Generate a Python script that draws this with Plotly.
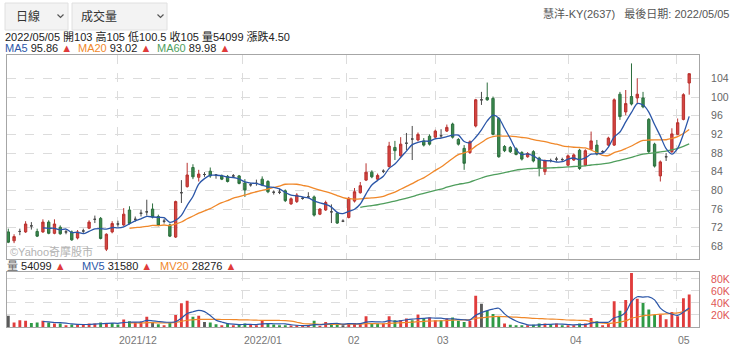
import plotly.graph_objects as go
import pandas as pd
import numpy as np

# ---------------- data ----------------
opens = [71.1,69.2,71.2,71.1,72.4,71.2,71.1,73.2,70.8,72.1,
 71.1,71.1,69.8,71.3,71.9,73.8,74.0,67.4,71.1,72.8,
 72.6,75.8,73.8,75.1,75.4,76.0,74.4,73.4,72.6,70.0,
 79.5,80.8,84.9,82.8,83.4,84.1,83.3,83.1,83.0,83.1,
 83.1,81.6,81.2,81.5,82.4,81.9,79.6,79.6,79.9,77.1,
 77.6,78.3,78.6,78.6,74.9,75.8,75.4,75.1,73.4,74.2,
 77.7,79.5,82.2,83.9,82.4,84.1,85.1,89.2,87.4,90.1,
 91.0,90.8,90.6,91.6,91.4,91.7,92.7,94.2,90.9,89.0,
 88.1,93.8,99.4,99.9,99.7,95.4,89.4,89.2,88.9,88.1,
 87.2,88.3,86.9,84.0,86.4,86.7,86.6,85.4,86.5,88.6,
 85.4,88.8,89.7,88.3,89.7,89.7,100.6,96.8,100.1,99.8,
 99.8,95.2,89.9,83.1,87.2,88.3,92.0,95.2,103.0]
highs = [71.8,70.6,71.8,73.4,73.2,71.8,73.8,73.6,73.8,72.5,
 71.5,71.4,71.5,71.8,73.6,74.6,74.3,70.8,73.4,73.5,
 76.2,76.6,74.4,75.8,78.0,77.2,74.8,73.9,72.9,77.8,
 82.2,85.9,85.6,84.4,83.9,84.9,83.5,83.4,83.3,83.5,
 83.3,82.4,81.6,82.3,83.0,82.2,80.0,80.4,80.2,78.5,
 79.4,78.6,79.6,78.9,76.2,77.8,77.0,75.4,73.8,78.6,
 80.5,81.8,85.8,84.3,83.6,84.5,90.4,90.6,91.4,92.3,
 93.8,92.4,91.2,92.0,93.0,93.1,94.1,94.5,91.2,89.7,
 90.7,99.6,101.1,103.1,100.1,95.7,89.7,89.5,89.2,88.4,
 88.2,88.6,87.2,86.6,86.8,87.2,87.0,87.7,87.9,88.9,
 88.8,92.6,90.8,88.6,91.5,99.7,101.1,101.5,107.2,104.0,
 101.1,95.5,90.2,86.4,88.0,93.3,95.4,100.8,105.0]
lows = [68.7,68.7,70.4,70.9,71.6,70.0,70.9,70.6,70.6,70.5,
 70.6,69.2,69.5,70.9,71.7,73.0,69.5,67.0,70.8,72.2,
 72.4,72.7,73.3,74.4,74.6,74.0,72.3,72.9,70.0,69.8,
 77.3,80.6,82.4,81.9,82.9,82.7,82.5,82.2,81.7,82.7,
 81.3,78.6,80.8,81.0,80.9,79.4,79.1,79.2,77.5,76.9,
 77.3,78.0,78.3,74.4,74.7,75.6,73.0,72.8,73.2,74.0,
 77.4,79.3,82.0,82.6,82.2,83.7,84.9,86.5,87.2,88.6,
 86.5,90.5,89.4,89.6,91.2,91.2,92.5,91.1,89.6,84.4,
 87.8,93.5,98.3,99.2,91.8,87.0,88.2,88.0,87.5,86.4,
 87.0,86.0,83.0,83.3,86.0,86.2,86.2,85.2,86.3,84.4,
 85.2,88.6,87.5,88.0,89.5,89.5,95.1,96.1,98.2,98.6,
 97.6,88.0,84.9,81.9,86.3,88.0,91.8,95.0,100.5]
closes = [68.9,70.1,71.2,72.8,72.4,70.2,73.2,70.8,72.8,70.7,
 71.1,69.4,71.1,71.3,73.2,73.8,69.7,70.6,72.9,72.8,
 74.9,72.9,73.8,75.1,75.4,74.3,72.5,73.4,70.2,77.6,
 79.5,83.3,82.9,83.5,83.4,83.1,83.3,82.4,81.9,83.1,
 81.5,80.1,81.2,81.5,81.2,79.7,79.6,79.6,77.8,78.2,
 79.0,78.3,78.6,74.7,76.0,77.4,75.4,73.0,73.4,78.3,
 79.7,81.0,83.9,82.9,83.2,84.1,89.5,88.5,89.9,90.1,
 91.0,92.0,89.7,89.9,92.7,91.7,93.5,91.4,89.9,85.8,
 90.4,99.4,99.4,99.4,92.0,87.2,88.5,88.3,87.7,86.7,
 87.9,86.3,84.7,86.3,86.4,86.7,86.6,87.4,87.6,84.7,
 88.5,90.6,87.8,88.3,91.2,99.4,95.8,98.6,98.5,100.6,
 97.9,88.3,85.2,86.1,87.2,92.1,94.5,100.5,105.0]
volumes = [18700,7300,11300,10200,6800,7300,10200,7300,5700,5700,
 2800,4000,4000,4500,5700,5700,7300,6800,6800,4000,
 12500,9600,7300,8500,17000,8500,4500,2800,6800,19800,
 39700,43600,17000,18700,8500,7300,4500,2800,5700,2800,
 4500,5700,3400,2800,10200,6800,4000,2800,2800,2300,
 2800,1700,2300,10200,1700,8500,5700,4500,2800,6800,
 6800,6800,18000,5700,5700,5700,18000,11300,11300,14200,
 11300,21000,14200,15900,11300,11300,14200,15900,10200,8500,
 10200,52000,38500,27200,21500,16500,5700,3900,2800,2800,
 2800,3900,5700,5700,3900,5700,2800,2800,2800,5700,
 5700,15000,9500,2800,6800,43000,27000,45000,90000,47000,
 40000,29000,20000,21000,13000,25000,18000,47800,54099]
vol_dir = ("krrrggrgrgrgrrrrgrgg" "rgrrrkgrgrrrgrkggrgr" "ggrrrggggrrrrgrrggkr"
           "rrrggrrgrrgrgrrgrggg" "rrkgggrgggrggrgrgrrg" "rrgrrrgrrrgggrrrrrr")
month_lines = [18.84, 40.55, 58.53, 73.95, 97.0, 115.72]
month_labels = ["2021/12", "2022/01", "02", "03", "04", "05"]
price_ticks = [68, 72, 76, 80, 84, 88, 92, 96, 100, 104]
vol_ticks = [20000, 40000, 60000, 80000]
vol_tick_text = ["20K", "40K", "60K", "80K"]

# ---------------- styling ----------------
FONT = "Liberation Sans, Arial, Noto Sans CJK TC, sans-serif"
RED = "#d64541"; RED_L = "#b8322f"
GREEN = "#3b8b4f"; GREEN_L = "#2c6e3d"
DOJI = "#4a4a4a"
C_MA5 = "#2b56a8"; C_MA20 = "#f0882a"; C_MA60 = "#4f9e5d"
TRI = "#e03a3a"
GRID = "#dcdcdc"; FRAME = "#a6a6a6"

n = len(closes)
idx = np.arange(n)
o = np.array(opens); c = np.array(closes); h = np.array(highs); l = np.array(lows)

fig = go.Figure()

def add_candles(mask, fill, line):
    ii = idx[mask]
    fig.add_trace(go.Candlestick(
        x=ii, open=o[mask], high=h[mask], low=l[mask], close=c[mask],
        increasing=dict(line=dict(color=line, width=1), fillcolor=fill),
        decreasing=dict(line=dict(color=line, width=1), fillcolor=fill),
        whiskerwidth=0, xaxis="x", yaxis="y", hoverinfo="skip", showlegend=False))

add_candles(c > o, RED, RED_L)
add_candles(c < o, GREEN, GREEN_L)
add_candles(c == o, DOJI, DOJI)

cs = pd.Series(closes)
vs = pd.Series(volumes, dtype=float)
def ma(series, win):
    m = series.rolling(win).mean()
    m.iloc[:win + 1] = np.nan
    return m

for win, col in [(60, C_MA60), (20, C_MA20), (5, C_MA5)]:
    fig.add_trace(go.Scatter(x=idx, y=ma(cs, win), mode="lines",
                             line=dict(color=col, width=1.3, shape="spline", smoothing=0.8),
                             xaxis="x", yaxis="y", hoverinfo="skip", showlegend=False))

vcol = {"r": "#e03c3c", "g": "#2f9a45", "k": "#5a5a5a"}
fig.add_trace(go.Bar(x=idx, y=volumes, marker=dict(color=[vcol[d] for d in vol_dir], line=dict(width=0)),
                     width=0.5, xaxis="x2", yaxis="y2", hoverinfo="skip", showlegend=False))
for win, col in [(20, C_MA20), (5, C_MA5)]:
    fig.add_trace(go.Scatter(x=idx, y=ma(vs, win), mode="lines",
                             line=dict(color=col, width=1.2, shape="spline", smoothing=0.8),
                             xaxis="x2", yaxis="y2", hoverinfo="skip", showlegend=False))

W, H = 740, 352
L, R, T, B = 7, 699, 55, 327
def px(xp): return (xp - L) / (R - L)
def py(yp): return (B - yp) / (B - T)

xcommon = dict(range=[-0.225, 119.7], tickvals=month_lines, showticklabels=False, ticks="",
               showgrid=True, gridcolor=GRID, griddash="dash", gridwidth=1, zeroline=False,
               showline=True, mirror=True, linecolor=FRAME, linewidth=1,
               rangeslider=dict(visible=False), fixedrange=True)

fig.update_layout(
    width=W, height=H,
    margin=dict(l=L, r=W - R, t=T, b=H - B),
    paper_bgcolor="white", plot_bgcolor="white",
    showlegend=False, hovermode=False, boxgap=0.42,
    font=dict(family=FONT, size=11, color="#333"),
    xaxis=dict(domain=[0, 1], anchor="y", **xcommon),
    xaxis2=dict(domain=[0, 1], anchor="y2", matches="x", **xcommon),
    yaxis=dict(domain=[py(259), 1], range=[65.3, 109.0], side="right", anchor="x",
               tickvals=price_ticks, ticks="", ticklabelstandoff=9,
               tickfont=dict(size=10.5, color="#666"),
               showgrid=True, gridcolor=GRID, griddash="dash", zeroline=False,
               showline=True, mirror=True, linecolor=FRAME, linewidth=1),
    yaxis2=dict(domain=[0, py(271.7)], range=[0, 92000], side="right", anchor="x2",
                tickvals=vol_ticks, ticktext=vol_tick_text, ticks="", ticklabelstandoff=9,
                tickfont=dict(size=10.5, color="#e05555"),
                showgrid=True, gridcolor=GRID, griddash="dash", zeroline=False,
                showline=True, mirror=True, linecolor=FRAME, linewidth=1),
)

def ann(text, xp, yp, xanchor="left", size=11, color="#222"):
    return dict(text=text, x=px(xp), y=py(yp), xref="paper", yref="paper",
                xanchor=xanchor, yanchor="middle", showarrow=False,
                font=dict(size=size, color=color, family=FONT))

def span(t, col):
    return f"<span style='color:{col}'>{t}</span>"

anns = [
    ann("日線", 14, 16.5, size=12, color="#333"),
    ann("成交量", 79, 16.5, size=12, color="#333"),
    ann("慧洋-KY(2637)&nbsp;&nbsp;&nbsp;最後日期: 2022/05/05", 731, 13.5, xanchor="right", size=11, color="#555"),
    ann("2022/05/05 開103 高105 低100.5 收105 量54099 漲跌4.50", 3, 36, size=11),
    ann(span("MA5", C_MA5) + " 95.86 " + span("▲", TRI), 3, 48.5, size=11),
    ann(span("MA20", C_MA20) + " 93.02 " + span("▲", TRI), 76, 48.5, size=11),
    ann(span("MA60", C_MA60) + " 89.98 " + span("▲", TRI), 155, 48.5, size=11),
    ann("©Yahoo奇摩股市", 8, 251.5, size=11, color="#b3b3b3"),
    ann(span("量", "#666") + " 54099 " + span("▲", TRI), 5, 266, size=11),
    ann(span("MV5", C_MA5) + " 31580 " + span("▲", TRI), 80, 266, size=11),
    ann(span("MV20", C_MA20) + " 28276 " + span("▲", TRI), 158, 266, size=11),
]
for pos, lab in zip(month_lines, month_labels):
    anns.append(dict(text=lab, x=pos, xref="x", y=py(339.5), yref="paper",
                     xanchor="left", yanchor="middle", showarrow=False,
                     font=dict(size=10.5, color="#777", family=FONT)))
fig.update_layout(annotations=anns)

shapes = []
for x0, x1 in [(5, 68), (72, 167)]:
    shapes.append(dict(type="rect", xref="paper", yref="paper",
                       x0=px(x0), x1=px(x1), y0=py(30), y1=py(3),
                       fillcolor="#f3f3f3", line=dict(color="#e0e0e0", width=1), layer="below"))
for cx in [60.5, 160.5]:
    path = f"M {px(cx-3)} {py(14.5)} L {px(cx)} {py(17.5)} L {px(cx+3)} {py(14.5)}"
    shapes.append(dict(type="path", xref="paper", yref="paper", path=path,
                       line=dict(color="#555", width=1.2)))
fig.update_layout(shapes=shapes)

fig.write_html("out.html")
